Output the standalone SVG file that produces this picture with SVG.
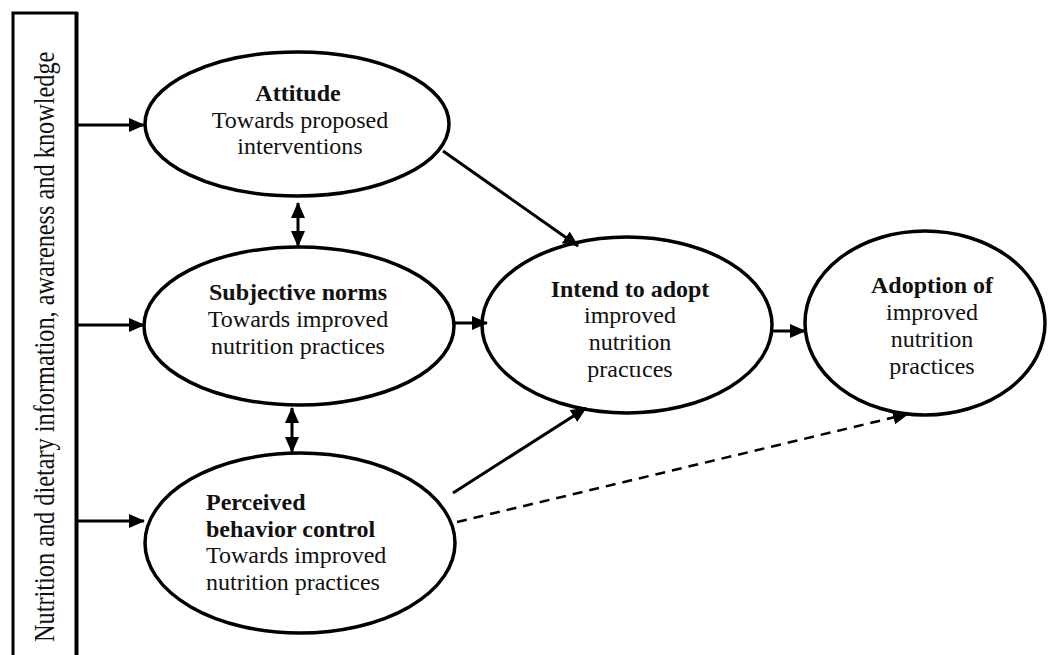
<svg xmlns="http://www.w3.org/2000/svg" width="1048" height="655" viewBox="0 0 1048 655">
<style>
.node{fill:#fff;stroke:#000;stroke-width:3.5}
.t{font-family:"Liberation Serif","Times New Roman",serif;font-size:24px;fill:#111}
.b{font-weight:bold}
.c{text-anchor:middle}
.v{font-family:"Liberation Serif","Times New Roman",serif;font-size:24.3px;fill:#111}
.ln{stroke:#000;stroke-width:3;fill:none}
.dash{stroke:#000;stroke-width:2.5;fill:none;stroke-dasharray:10 7}
</style>
<defs>
<marker id="ah" markerUnits="userSpaceOnUse" markerWidth="16" markerHeight="14" viewBox="0 0 16 14" refX="15" refY="7" orient="auto-start-reverse">
<path d="M0,0 L16,7 L0,14 z" fill="#000"/>
</marker>
<clipPath id="clipI"><rect x="480" y="366" width="300" height="30"/></clipPath>
</defs>
<rect width="1048" height="655" fill="#fff"/>
<g id="source">
<rect x="13" y="13" width="63" height="652" fill="#fff" stroke="#000" stroke-width="3"/>
<line x1="77.5" y1="12" x2="77.5" y2="655" stroke="#000" stroke-width="2"/>
<text class="v" transform="translate(54,642) rotate(-90) scale(1,1.25)">Nutrition and dietary information, awareness and knowledge</text>
</g>
<g id="attitude">
<ellipse class="node" cx="297" cy="124" rx="152" ry="72"/>
<text class="t b c" x="298" y="101">Attitude</text>
<text class="t c" x="300" y="128">Towards proposed</text>
<text class="t c" x="300" y="154">interventions</text>
</g>
<g id="subjective">
<ellipse class="node" cx="299" cy="326" rx="155" ry="79"/>
<text class="t b c" x="298" y="300">Subjective norms</text>
<text class="t c" x="298" y="327">Towards improved</text>
<text class="t c" x="298" y="354">nutrition practices</text>
</g>
<g id="perceived">
<ellipse class="node" cx="300" cy="543" rx="155" ry="90"/>
<text class="t b" x="206" y="510">Perceived</text>
<text class="t b" x="206" y="537">behavior control</text>
<text class="t" x="206" y="563">Towards improved</text>
<text class="t" x="206" y="590">nutrition practices</text>
</g>
<g id="intend">
<ellipse class="node" cx="627" cy="325" rx="145" ry="88"/>
<text class="t b c" x="630" y="297">Intend to adopt</text>
<text class="t c" x="630" y="323">improved</text>
<text class="t c" x="630" y="350">nutrition</text>
<text class="t c" x="630" y="377" clip-path="url(#clipI)">practices</text>
</g>
<g id="adoption">
<ellipse class="node" cx="925" cy="323" rx="120" ry="92"/>
<text class="t b c" x="932" y="293">Adoption of</text>
<text class="t c" x="932" y="320">improved</text>
<text class="t c" x="932" y="347">nutrition</text>
<text class="t c" x="932" y="374">practices</text>
</g>
<g id="connectors">
<line class="ln" x1="78" y1="125" x2="144" y2="125" marker-end="url(#ah)"/>
<line class="ln" x1="78" y1="325" x2="144" y2="325" marker-end="url(#ah)"/>
<line class="ln" x1="78" y1="521" x2="144" y2="521" marker-end="url(#ah)"/>
<line class="ln" x1="298" y1="203" x2="298" y2="246" marker-start="url(#ah)" marker-end="url(#ah)"/>
<line class="ln" x1="292" y1="408" x2="292" y2="452" marker-start="url(#ah)" marker-end="url(#ah)"/>
<line class="ln" x1="454" y1="323" x2="487" y2="323" marker-end="url(#ah)"/>
<line class="ln" x1="772" y1="331" x2="805" y2="331" marker-end="url(#ah)"/>
<line class="ln" x1="443" y1="151" x2="578" y2="246" marker-end="url(#ah)"/>
<line class="ln" x1="453" y1="493" x2="586" y2="408" marker-end="url(#ah)"/>
<line class="dash" x1="457" y1="522" x2="908" y2="414" marker-end="url(#ah)"/>
</g>
</svg>
